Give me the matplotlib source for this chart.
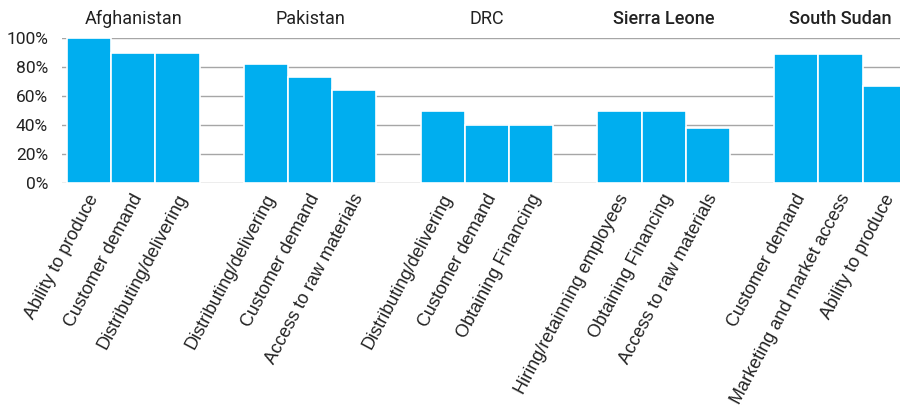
import matplotlib
matplotlib.use("Agg")
import matplotlib.pyplot as plt
import matplotlib.transforms as mtransforms
import numpy as np

countries = ["Afghanistan", "Pakistan", "DRC", "Sierra Leone", "South Sudan"]
labels = [
    ["Ability to produce", "Customer demand", "Distributing/delivering"],
    ["Distributing/delivering", "Customer demand", "Access to raw materials"],
    ["Distributing/delivering", "Customer demand", "Obtaining Financing"],
    ["Hiring/retainning employees", "Obtaining Financing", "Access to raw materials"],
    ["Customer demand", "Marketing and market access", "Ability to produce"],
]
values = [
    [100, 90, 90],
    [82, 73, 64],
    [50, 40, 40],
    [50, 50, 38],
    [89, 89, 67],
]
title_bold = [False, False, False, True, True]

blue = "#00AEEF"
W, H = 900, 412
fig = plt.figure(figsize=(W / 100, H / 100), dpi=100)
# axes placed in pixel terms: left 62px, right edge of figure, 0% at y=183, 100% at y=38
ax = fig.add_axes([62 / W, (H - 183) / H, (W - 62) / W, 145 / H])

xs, heights, ticklabels = [], [], []
for g in range(len(countries)):
    for j in range(3):
        xs.append(4 * g + j)
        heights.append(values[g][j])
        ticklabels.append(labels[g][j])

ax.bar(xs, heights, width=1.0, color=blue, edgecolor="white", linewidth=1.2,
       zorder=3, clip_on=False)

slot = 44.2
ax.set_xlim(-0.5 - 5 / slot, -0.5 + (W - 67) / slot)
ax.set_ylim(0, 100)
ax.set_yticks(np.arange(0, 101, 20))
ax.set_yticklabels([f"{v}%" for v in range(0, 101, 20)], fontsize=12.5,
                   family="Roboto", color="#222222")
ax.yaxis.grid(True, color="#a6a6a6", linewidth=1.0, zorder=0)
ax.tick_params(axis="y", length=0, pad=10)
ax.tick_params(axis="x", length=0, pad=6)
ax.set_xticks(xs)
ax.set_xticklabels(ticklabels, rotation=62, ha="right", rotation_mode="anchor",
                   fontsize=13, family="Liberation Sans", color="#222222")
shift = mtransforms.ScaledTranslation(-2 / 100, 0, fig.dpi_scale_trans)
for lab in ax.get_xticklabels():
    lab.set_transform(lab.get_transform() + shift)
for s in ax.spines.values():
    s.set_visible(False)

for g, name in enumerate(countries):
    ax.text(4 * g + 1, 1.0 + 10 / 145, name, transform=ax.get_xaxis_transform(),
            ha="center", va="bottom", fontsize=13, family="Roboto",
            fontweight="medium" if title_bold[g] else "normal",
            color="#222222")

fig.savefig("out.png", dpi=100)
